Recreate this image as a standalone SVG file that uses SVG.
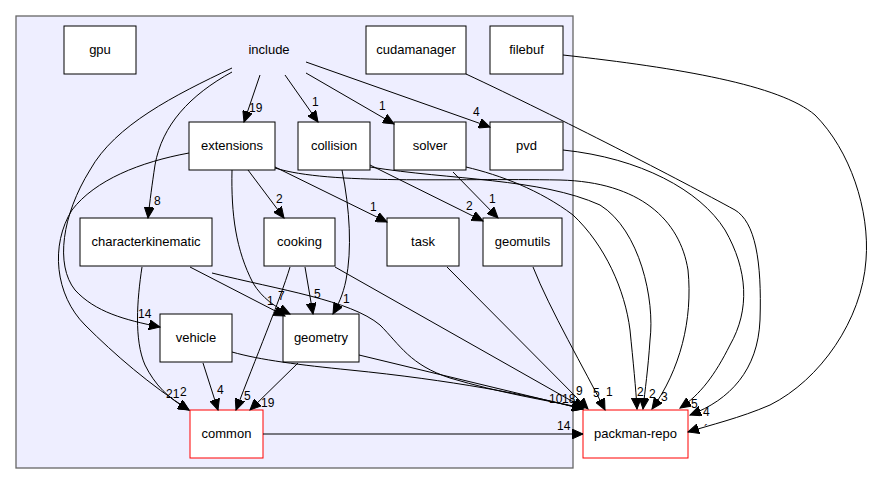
<svg xmlns="http://www.w3.org/2000/svg" width="874" height="485" viewBox="0 0 874 485">
<defs>
<marker id="ah" markerUnits="userSpaceOnUse" markerWidth="12" markerHeight="10" refX="11" refY="5" orient="auto">
<path d="M0,0 L11,5 L0,10 Z" fill="#000" stroke="#000" stroke-width="1"/>
</marker>
</defs>
<style>
.cl{fill:#eeeeff;stroke:#666666;stroke-width:1.3}
.n{fill:#ffffff;stroke:#000000;stroke-width:1}
.r{fill:#ffffff;stroke:#ff0000;stroke-width:1}
.t{font-family:"Liberation Sans",Arial,sans-serif;font-size:13px;fill:#000;text-anchor:middle}
.l{font-family:"Liberation Sans",Arial,sans-serif;font-size:12px;fill:#000}
.e{fill:none;stroke:#000;stroke-width:1;marker-end:url(#ah)}
</style>
<rect class="cl" x="16" y="16" width="557" height="452"/>
<g id="include"><text class="t" x="269" y="54">include</text></g>
<g id="gpu"><rect class="n" x="64" y="26" width="72" height="48"/><text class="t" x="100" y="54">gpu</text></g>
<g id="cudamanager"><rect class="n" x="366" y="26" width="100" height="48"/><text class="t" x="416" y="54">cudamanager</text></g>
<g id="filebuf"><rect class="n" x="490" y="26" width="73" height="48"/><text class="t" x="526.5" y="54">filebuf</text></g>
<g id="extensions"><rect class="n" x="189" y="122" width="86" height="48"/><text class="t" x="232" y="150">extensions</text></g>
<g id="collision"><rect class="n" x="298" y="122" width="72" height="48"/><text class="t" x="334" y="150">collision</text></g>
<g id="solver"><rect class="n" x="394" y="122" width="72" height="48"/><text class="t" x="430" y="150">solver</text></g>
<g id="pvd"><rect class="n" x="490" y="122" width="73" height="48"/><text class="t" x="526.5" y="150">pvd</text></g>
<g id="characterkinematic"><rect class="n" x="80" y="218" width="132" height="48"/><text class="t" x="146" y="246">characterkinematic</text></g>
<g id="cooking"><rect class="n" x="264" y="218" width="71" height="48"/><text class="t" x="299.5" y="246">cooking</text></g>
<g id="task"><rect class="n" x="387" y="218" width="72" height="48"/><text class="t" x="423" y="246">task</text></g>
<g id="geomutils"><rect class="n" x="483" y="218" width="79" height="48"/><text class="t" x="522.5" y="246">geomutils</text></g>
<g id="vehicle"><rect class="n" x="160" y="314" width="72" height="48"/><text class="t" x="196" y="342">vehicle</text></g>
<g id="geometry"><rect class="n" x="283" y="314" width="76" height="48"/><text class="t" x="321" y="342">geometry</text></g>
<g id="common"><rect class="r" x="190" y="410" width="73" height="48"/><text class="t" x="226.5" y="438">common</text></g>
<g id="packman-repo"><rect class="r" x="583" y="410" width="105" height="48"/><text class="t" x="635.5" y="438">packman-repo</text></g>
<g id="edges">
<path class="e" d="M260,75 L244,122"/>
<path class="e" d="M285,75 L318,122"/>
<path class="e" d="M306,73 L394,124"/>
<path class="e" d="M306,62 L490,127"/>
<path class="e" d="M232,72 C190,95 162,125 155,165 C152,185 150,200 148,218"/>
<path class="e" d="M232,68 C175,95 115,125 90,170 C62,215 55,265 75,290 C95,312 125,320 160,327"/>
<path class="e" d="M189,153 C140,162 95,180 72,210 C50,245 55,295 85,325 C115,355 150,385 189,410"/>
<path class="e" d="M142,267 C137,300 134,340 145,365 C155,385 168,398 189,410"/>
<path class="e" d="M203,363 L218,410"/>
<path class="e" d="M290,267 C280,300 255,360 236,410"/>
<path class="e" d="M298,363 L250,410"/>
<path class="e" d="M190,267 L285,316"/>
<path class="e" d="M232,170 C231,215 236,250 253,283 C262,298 275,307 290,314"/>
<path class="e" d="M248,170 L284,218"/>
<path class="e" d="M275,167 L387,222"/>
<path class="e" d="M370,165 L483,221"/>
<path class="e" d="M453,172 L498,218"/>
<path class="e" d="M342,170 C350,210 352,250 346,280 C343,295 338,305 333,314"/>
<path class="e" d="M305,267 L313,314"/>
<path class="e" d="M263,434 L583,434"/>
<path class="e" d="M232,352 C260,360 300,365 350,370 C450,380 530,395 583,409"/>
<path class="e" d="M359,355 L583,409"/>
<path class="e" d="M212,273 C280,290 350,300 380,325 C400,345 410,365 450,378 C500,393 545,400 583,408"/>
<path class="e" d="M335,267 L584,408"/>
<path class="e" d="M447,267 L588,409"/>
<path class="e" d="M533,267 C550,310 585,370 605,410"/>
<path class="e" d="M466,167 C500,175 540,190 573,215 C605,245 625,290 630,330 C633,360 636,390 637,409"/>
<path class="e" d="M370,167 C450,180 540,178 600,205 C640,230 655,300 650,340 C648,370 645,390 643,409"/>
<path class="e" d="M275,168 C330,185 450,178 560,180 C640,182 680,220 688,270 C693,320 680,370 652,409"/>
<path class="e" d="M563,150 C640,158 700,190 725,230 C748,270 750,310 730,345 C715,375 700,395 680,408"/>
<path class="e" d="M466,74 C560,118 680,180 735,210 C755,222 762,260 760,320 C758,370 730,400 690,415"/>
<path class="e" d="M563,55 C680,68 780,85 815,115 C850,150 870,210 866,260 C862,320 820,380 770,405 C740,418 710,425 688,432"/>
<text class="l" x="249" y="112">19</text>
<text class="l" x="312" y="106">1</text>
<text class="l" x="379" y="110">1</text>
<text class="l" x="473" y="116">4</text>
<text class="l" x="154" y="205">8</text>
<text class="l" x="138" y="318">14</text>
<text class="l" x="166" y="398">21</text>
<text class="l" x="180" y="396">2</text>
<text class="l" x="217" y="394">4</text>
<text class="l" x="244" y="400">5</text>
<text class="l" x="261" y="407">19</text>
<text class="l" x="267" y="305">1</text>
<text class="l" x="278" y="300">7</text>
<text class="l" x="276" y="203">2</text>
<text class="l" x="370" y="211">1</text>
<text class="l" x="466" y="210">2</text>
<text class="l" x="489" y="203">1</text>
<text class="l" x="343" y="303">1</text>
<text class="l" x="314" y="298">5</text>
<text class="l" x="557" y="430">14</text>
<text class="l" x="549" y="403">10</text>
<text class="l" x="562" y="403">18</text>
<text class="l" x="576" y="395">9</text>
<text class="l" x="593" y="397">5</text>
<text class="l" x="606" y="396">1</text>
<text class="l" x="637" y="396">2</text>
<text class="l" x="649" y="398">2</text>
<text class="l" x="661" y="401">3</text>
<text class="l" x="691" y="408">5</text>
<text class="l" x="703" y="416">4</text>
<text class="l" x="704" y="434">´</text>
</g>
</svg>
